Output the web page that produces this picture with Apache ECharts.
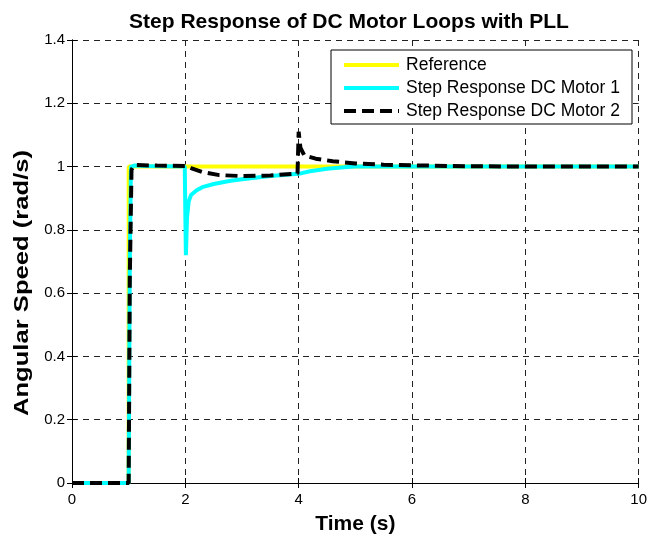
<!DOCTYPE html>
<html><head><meta charset="utf-8">
<script src="https://cdn.jsdelivr.net/npm/echarts@6/dist/echarts.min.js"></script>
<style>html,body{margin:0;padding:0;background:#fff}#c{width:650px;height:540px}</style>
</head><body><div id="c"></div>
<script>
var xTicks = [0, 2, 4, 6, 8, 10];
var yTicks = [0, 0.2, 0.4, 0.6, 0.8, 1, 1.2, 1.4];

var refTime   = [0, 1.0, 1.0, 10];
var refValue  = [0, 0, 1.0, 1.0];

var m1Time  = [0, 1.0, 1.02, 1.04, 1.1, 1.3, 1.99, 2.0, 2.01, 2.03, 2.06, 2.1, 2.2, 2.3, 2.5, 2.8, 3.0, 3.5, 4.0, 4.2, 4.5, 4.8, 5.0, 6.0, 10];
var m1Value = [0, 0, 0.7, 1.0, 1.003, 1.002, 1.0, 0.85, 0.72, 0.84, 0.89, 0.91, 0.925, 0.935, 0.945, 0.955, 0.96, 0.97, 0.977, 0.985, 0.993, 0.998, 1.0, 1.0, 1.0];

var m2Time  = [0, 1.0, 1.02, 1.05, 1.1, 1.5, 2.0, 2.1, 2.3, 2.6, 3.0, 3.5, 3.98, 4.0, 4.03, 4.1, 4.3, 4.6, 5.0, 5.5, 6.0, 7.0, 8.0, 10];
var m2Value = [0, 0, 0.65, 0.99, 1.005, 1.003, 1.002, 0.995, 0.983, 0.973, 0.97, 0.972, 0.978, 1.11, 1.06, 1.035, 1.025, 1.017, 1.01, 1.006, 1.004, 1.001, 1.0, 1.0];

var xName = 'Time (s)';
var yName = 'Angular Speed (rad/s)';
var titleText = 'Step Response of DC Motor Loops with PLL';
var legendNames = ['Reference', 'Step Response DC Motor 1', 'Step Response DC Motor 2'];

function pairs(t, v) { return t.map(function (x, i) { return [x, v[i]]; }); }

var font = 'Liberation Sans, Arial, Helvetica, sans-serif';
var chart = echarts.init(document.getElementById('c'), null, {renderer: 'canvas'});
var gridLine = {show: true, lineStyle: {color: '#222', type: [6, 5], width: 1}};
var tickIn = {show: true, inside: true, length: 5, lineStyle: {color: '#000'}};
chart.setOption({
  backgroundColor: '#fff',
  animation: false,
  title: {
    text: titleText,
    left: 344, top: 7, textAlign: 'center',
    textStyle: {fontFamily: font, fontSize: 21, fontWeight: 'bold', color: '#000'}
  },
  legend: {
    right: 18, top: 50, orient: 'vertical',
    itemWidth: 55, itemHeight: 14, itemGap: 5,
    padding: [6, 12, 4, 11],
    borderColor: '#000', borderWidth: 1, borderRadius: 0,
    backgroundColor: '#fff',
    itemStyle: {opacity: 0},
    lineStyle: {width: 4},
    textStyle: {fontFamily: font, fontSize: 17.5, color: '#000', padding: [0, 0, 0, 2]},
    data: legendNames
  },
  graphic: [{
    type: 'text', x: 22, y: 283, rotation: Math.PI / 2, scaleX: 1.22,
    style: {text: yName, fontFamily: font, fontSize: 21, fontWeight: 'bold',
      fill: '#000', align: 'center', verticalAlign: 'middle'}
  }],
  grid: {left: 72, right: 10, top: 40, bottom: 52, containLabel: false},
  xAxis: [{
    type: 'value', min: 0, max: 10, interval: 2,
    name: xName, nameLocation: 'middle', nameGap: 31,
    nameTextStyle: {fontFamily: font, fontSize: 21, fontWeight: 'bold', color: '#000'},
    axisLine: {show: true, onZero: false, lineStyle: {color: '#000', width: 1}},
    axisTick: tickIn,
    axisLabel: {fontFamily: font, fontSize: 15, color: '#000', margin: 9},
    splitLine: gridLine
  }, {
    type: 'value', min: 0, max: 10, interval: 2, position: 'top',
    axisLine: {show: true, lineStyle: {color: '#000', width: 1}},
    axisTick: tickIn, axisLabel: {show: false}, splitLine: {show: false}
  }],
  yAxis: [{
    type: 'value', min: 0, max: 1.4, interval: 0.2,
    axisLine: {show: true, onZero: false, lineStyle: {color: '#000', width: 1}},
    axisTick: tickIn,
    axisLabel: {fontFamily: font, fontSize: 15, color: '#000', margin: 7,
      formatter: function (v) { return String(+v.toFixed(1)); }},
    splitLine: gridLine
  }, {
    type: 'value', min: 0, max: 1.4, interval: 0.2, position: 'right',
    axisLine: {show: true, lineStyle: {color: '#000', width: 1}},
    axisTick: tickIn, axisLabel: {show: false}, splitLine: {show: false}
  }],
  series: [{
    name: legendNames[0], type: 'line', data: pairs(refTime, refValue),
    showSymbol: false, symbol: 'none', color: '#ffff00',
    lineStyle: {color: '#ffff00', width: 4}, z: 2
  }, {
    name: legendNames[1], type: 'line', data: pairs(m1Time, m1Value),
    showSymbol: false, symbol: 'none', color: '#00ffff',
    lineStyle: {color: '#00ffff', width: 4}, z: 3
  }, {
    name: legendNames[2], type: 'line', data: pairs(m2Time, m2Value),
    showSymbol: false, symbol: 'none', color: '#000',
    lineStyle: {color: '#000', width: 4, type: [12, 6]}, z: 4
  }]
});
</script></body></html>
